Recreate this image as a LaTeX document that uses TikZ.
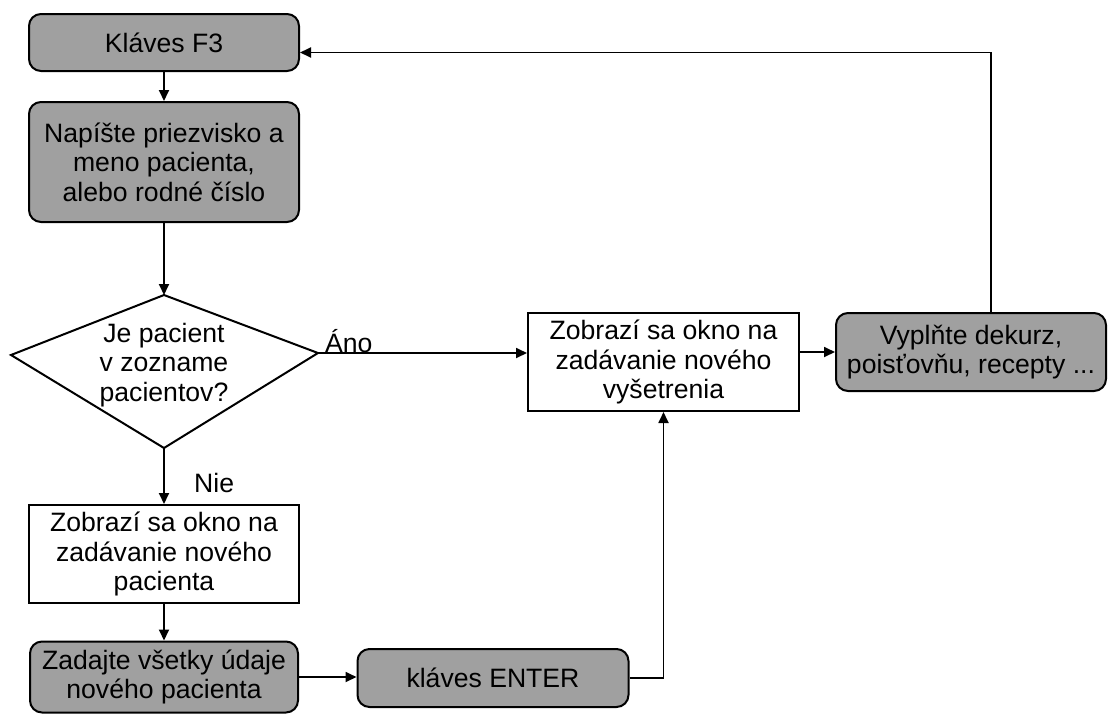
\documentclass[tikz,border=0pt]{standalone}
\usepackage{fontspec}
\setmainfont{Liberation Sans}
\usetikzlibrary{arrows.meta,calc}
\definecolor{boxgray}{RGB}{160,160,160}
\begin{document}
\begin{tikzpicture}[x=1pt,y=-1pt,
  every node/.style={font=\fontsize{26.6}{29.5}\selectfont, align=center, inner sep=0pt},
  graybox/.style={draw, line width=2pt, fill=boxgray, rounded corners=12pt},
  whitebox/.style={draw, line width=2pt, fill=white},
  conn/.style={line width=1.8pt, -{Triangle[length=11pt,width=10pt]}},
  plain/.style={line width=1.8pt}]
\useasboundingbox (0,0) rectangle (1113,713);
\begin{scope}
\clip (0,0) rectangle (1113,713);
\node[graybox, minimum width=270pt, minimum height=57pt] (f3) at (164,42.5) {Kláves F3};
\node[graybox, minimum width=270pt, minimum height=120pt] (nap) at (164,162) {Napíšte priezvisko a\\meno pacienta,\\alebo rodné číslo};
\coordinate (dtop) at (164,295);
\coordinate (dright) at (318,353);
\coordinate (dbot) at (164,448);
\coordinate (dleft) at (11,355);
\draw[line width=2pt, fill=white] (dtop) -- (dright) -- (dbot) -- (dleft) -- cycle;
\node (dtext) at (164,365) {Je pacient\\v zozname\\pacientov?};
\node[whitebox, minimum width=270pt, minimum height=98pt] (pac) at (164,554) {Zobrazí sa okno na\\zadávanie nového\\pacienta};
\node[graybox, minimum width=268pt, minimum height=71pt] (zad) at (164,677) {Zadajte všetky údaje\\nového pacienta};
\node[graybox, minimum width=271pt, minimum height=58pt] (ent) at (493,678) {kláves ENTER};
\node[whitebox, minimum width=271pt, minimum height=98pt] (vys) at (663.5,362) {Zobrazí sa okno na\\zadávanie nového\\vyšetrenia};
\node[graybox, minimum width=270pt, minimum height=78pt] (vyp) at (971,352) {Vyplňte dekurz,\\poisťovňu, recepty ...};
\node[anchor=base west] (ano) at (325,352) {Áno};
\node[anchor=base west] (nie) at (194,492) {Nie};
\draw[conn] (f3.south) -- (nap.north);
\draw[conn] (nap.south) -- (dtop);
\draw[conn] (dright) -- (dright -| vys.west);
\draw[conn] (dbot) -- (pac.north);
\draw[conn] (pac.south) -- (zad.north);
\draw[conn] (zad.east) -- (zad.east -| ent.west);
\draw[conn] (ent.east) -- (ent.east -| vys.south) -- (vys.south);
\draw[conn] (vys.east |- vyp.west) -- (vyp.west);
\draw[conn] ([xshift=20pt]vyp.north) |- ([yshift=-10pt]f3.east);
\end{scope}
\end{tikzpicture}
\end{document}
